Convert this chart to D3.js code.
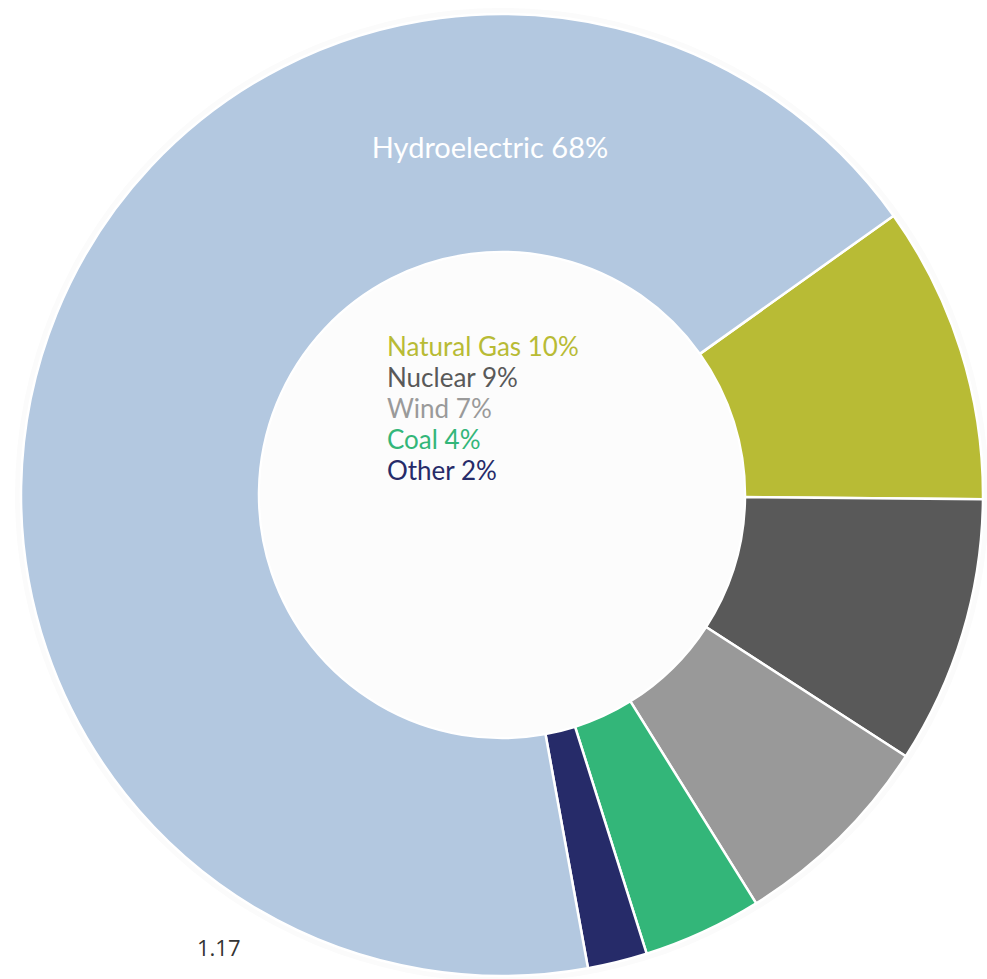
<!DOCTYPE html>
<html>
<head>
<meta charset="utf-8">
<script src="https://cdn.jsdelivr.net/npm/d3@7"></script>
<style>
  body { margin: 0; background: #ffffff; }
  svg { display: block; }
</style>
</head>
<body>
<svg id="chart" width="987" height="979"></svg>
<script>
// data, in drawing order going clockwise from the natural gas slice
var sources = ["Natural Gas", "Nuclear", "Wind", "Coal", "Other", "Hydroelectric"];
var shares = [10, 9, 7, 4, 2, 68];
var colours = ["#b8bb35", "#595959", "#999999", "#33b679", "#262b69", "#b3c8e0"];
var legendColours = ["#b8bb35", "#595959", "#9a9a9a", "#33b679", "#262b69"];
var footnote = "1.17";

var chart = {};
chart.width = 987;
chart.height = 979;
chart.cx = 502;
chart.cy = 495;
chart.outer = 481;
chart.inner = 243;
chart.start = 54.5 * Math.PI / 180;

var svg = d3.select("#chart");

// faint halo round the ring
svg.append("circle")
    .attr("cx", chart.cx)
    .attr("cy", chart.cy)
    .attr("r", chart.outer + 6)
    .style("fill", "#fbfbfb");

var g = svg.append("g")
    .attr("transform", "translate(" + chart.cx + "," + chart.cy + ")");

var pie = d3.pie()
    .sort(null)
    .value(function(d) { return d; })
    .startAngle(chart.start)
    .endAngle(chart.start + 2 * Math.PI);

var arc = d3.arc()
    .innerRadius(chart.inner)
    .outerRadius(chart.outer);

g.selectAll("path")
    .data(pie(shares))
    .enter().append("path")
    .attr("d", arc)
    .style("fill", function(d, i) { return colours[i]; })
    .style("stroke", "#ffffff")
    .style("stroke-width", 2.5)
    .style("stroke-linejoin", "round");

// hole
g.append("circle")
    .attr("r", chart.inner - 1)
    .style("fill", "#fcfcfc");

// label on the big slice
g.append("text")
    .attr("x", -12)
    .attr("y", -337)
    .attr("text-anchor", "middle")
    .style("font-family", "Lato, 'Open Sans', sans-serif")
    .style("font-size", "29px")
    .style("fill", "#ffffff")
    .text(sources[5] + " " + shares[5] + "%");

// legend inside the hole
g.selectAll("text.legend")
    .data(sources.slice(0, 5))
    .enter().append("text")
    .attr("class", "legend")
    .attr("x", -115)
    .attr("y", function(d, i) { return -139 + i * 31; })
    .style("font-family", "Lato, 'Open Sans', sans-serif")
    .style("font-size", "26px")
    .style("fill", function(d, i) { return legendColours[i]; })
    .text(function(d, i) { return d + " " + shares[i] + "%"; });

svg.append("text")
    .attr("x", 197)
    .attr("y", 956)
    .style("font-family", "'Open Sans', sans-serif")
    .style("font-size", "22px")
    .style("fill", "#333333")
    .text(footnote);
</script>
</body>
</html>
